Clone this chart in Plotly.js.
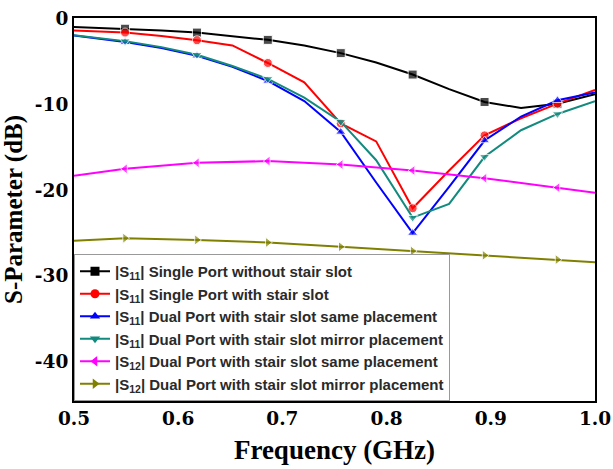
<!DOCTYPE html>
<html><head><meta charset="utf-8">
<script src="https://cdn.plot.ly/plotly-3.0.1.min.js"></script>
<style>html,body{margin:0;padding:0;background:#fff}</style>
</head><body>
<div id="chart" style="width:613px;height:469px"></div>
<script>
// Frequency (GHz) for the |S11| curves; markers are drawn on every other point
const freqS11 = [0.5, 0.549, 0.584, 0.618, 0.652, 0.686, 0.721, 0.756, 0.790, 0.825, 0.860, 0.894, 0.929, 0.964, 1.0];
const s11SingleNoSlot = [-0.95, -1.15, -1.35, -1.6, -2.0, -2.45, -3.1, -4.0, -5.1, -6.5, -8.2, -9.7, -10.4, -9.9, -8.8];
const s11SingleSlot   = [-1.35, -1.6, -2.0, -2.5, -3.1, -5.15, -7.4, -12.2, -14.3, -22.1, -17.7, -13.6, -11.6, -9.9, -8.3];
const s11DualSame     = [-1.93, -2.7, -3.4, -4.3, -5.6, -7.25, -9.6, -13.2, -19.1, -25.0, -19.6, -14.2, -11.4, -9.5, -8.6];
const s11DualMirror   = [-1.9, -2.6, -3.3, -4.2, -5.5, -7.0, -9.2, -12.0, -16.5, -23.2, -21.6, -16.1, -13.0, -11.1, -9.6];
// Frequency (GHz) for the |S12| curves
const freqS12 = [0.5, 0.549, 0.618, 0.686, 0.756, 0.825, 0.894, 0.964, 1.0];
const s12DualSame   = [-18.3, -17.5, -16.8, -16.6, -17.0, -17.7, -18.6, -19.7, -20.3];
const s12DualMirror = [-25.9, -25.6, -25.8, -26.1, -26.6, -27.1, -27.6, -28.1, -28.4];

const seriesNames = [
  '|S<sub>11</sub>| Single Port without stair slot',
  '|S<sub>11</sub>| Single Port with stair slot',
  '|S<sub>11</sub>| Dual Port with stair slot same placement',
  '|S<sub>11</sub>| Dual Port with stair slot mirror placement',
  '|S<sub>12</sub>| Dual Port with stair slot same placement',
  '|S<sub>12</sub>| Dual Port with stair slot mirror placement'
];
const xTicks = [0.5, 0.6, 0.7, 0.8, 0.9, 1.0];
const yTicks = [0, -10, -20, -30, -40];
const yTickText = ['0', '-10', '-20', '-30', '-40'];

const colors = ['#000000', '#ff0000', '#0000ff', '#138a7e', '#ff00ff', '#808000'];
const symbols = ['square', 'circle', 'triangle-up', 'triangle-down', 'triangle-left', 'triangle-right'];
const MS = 9;
const SERIF = 'Liberation Serif';
const TICKSERIF = 'DejaVu Serif';

const ys = [s11SingleNoSlot, s11SingleSlot, s11DualSame, s11DualMirror, s12DualSame, s12DualMirror];
const traces = [];
ys.forEach((y, k) => {
  const isS12 = k >= 4;
  const x = isS12 ? freqS12 : freqS11;
  const sz = isS12 ? x.map((_, i) => (i > 0 && i < x.length - 1) ? MS : 0)
                   : x.map((_, i) => i % 2 === 1 ? MS : 0);
  traces.push({
    x: x, y: y, mode: 'lines+markers', showlegend: false, hoverinfo: 'skip',
    line: {color: colors[k], width: 2},
    marker: {symbol: symbols[k], color: colors[k], size: sz}
  });
});
ys.forEach((y, k) => {
  traces.push({
    x: [null], y: [null], mode: 'lines+markers', name: seriesNames[k],
    line: {color: colors[k], width: 2},
    marker: {symbol: symbols[k], color: colors[k], size: MS}
  });
});

const layout = {
  width: 613, height: 469,
  margin: {l: 74, r: 18, t: 18, b: 68},
  font: {family: SERIF, size: 19, color: '#000', weight: 'bold'},
  paper_bgcolor: '#ffffff', plot_bgcolor: '#ffffff',
  showlegend: true,
  legend: {
    x: 0, y: 0, xanchor: 'left', yanchor: 'bottom',
    bgcolor: '#ffffff', bordercolor: '#999999', borderwidth: 1,
    font: {family: 'Liberation Sans', size: 15, color: '#2a2a2a', weight: 'bold'},
    tracegroupgap: 0
  },
  xaxis: {
    range: [0.5, 1.0], tickvals: xTicks, ticktext: xTicks.map(v => v.toFixed(1)),
    showgrid: false, zeroline: false, showline: true, mirror: true, linecolor: '#000', linewidth: 2,
    ticks: '', ticklabeloverflow: 'allow',
    tickfont: {family: TICKSERIF, size: 18.5, color: '#000', weight: 'bold'},
    title: {text: 'Frequency (GHz)', font: {family: SERIF, size: 27, color: '#000', weight: 'bold'}, standoff: 12}
  },
  yaxis: {
    range: [-44.6, 0.1], tickvals: yTicks, ticktext: yTickText,
    showgrid: false, zeroline: false, showline: true, mirror: true, linecolor: '#000', linewidth: 2,
    ticks: '', ticklabeloverflow: 'allow',
    tickfont: {family: TICKSERIF, size: 18.5, color: '#000', weight: 'bold'},
    title: {text: 'S-Parameter (dB)', font: {family: SERIF, size: 25, color: '#000', weight: 'bold'}, standoff: 10}
  }
};

Plotly.newPlot('chart', traces, layout, {displayModeBar: false, staticPlot: true});
</script>
</body></html>
